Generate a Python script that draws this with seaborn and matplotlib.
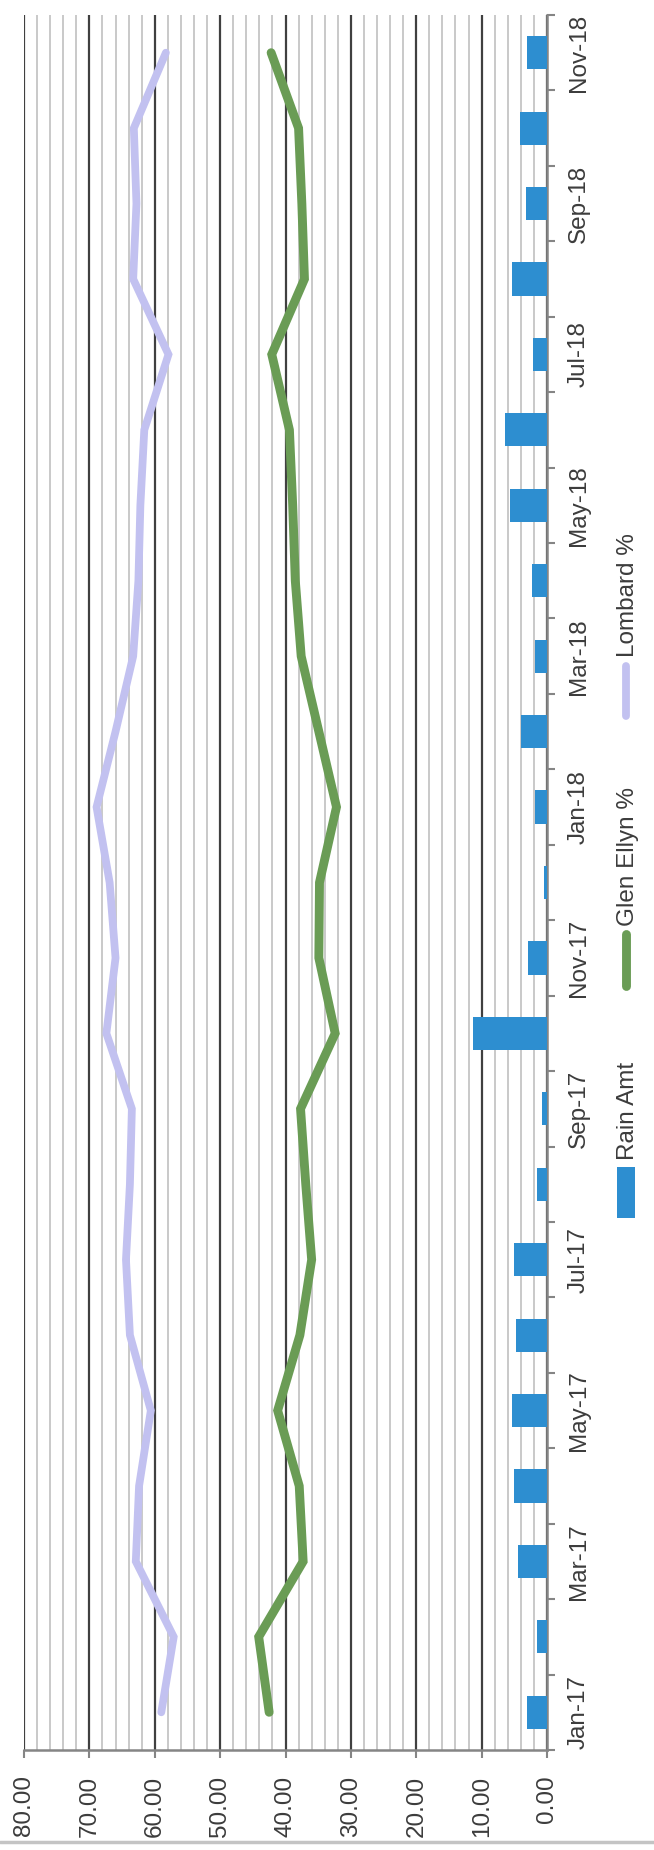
import numpy as np
import pandas as pd
import matplotlib
matplotlib.use("Agg")
import matplotlib.pyplot as plt
import seaborn as sns
from matplotlib.patches import Rectangle
from matplotlib.lines import Line2D

# Monthly series
months = ["Jan-17", "Feb-17", "Mar-17", "Apr-17", "May-17", "Jun-17",
          "Jul-17", "Aug-17", "Sep-17", "Oct-17", "Nov-17", "Dec-17",
          "Jan-18", "Feb-18", "Mar-18", "Apr-18", "May-18", "Jun-18",
          "Jul-18", "Aug-18", "Sep-18", "Oct-18", "Nov-18"]
rain_amt = [3.0, 1.5, 4.4, 5.0, 5.3, 4.7, 5.0, 1.5, 0.7, 11.3, 2.9, 0.4,
            1.8, 4.0, 1.9, 2.3, 5.7, 6.4, 2.1, 5.3, 3.2, 4.1, 3.1]
glen_ellyn_pct = [42.5, 44.1, 37.3, 37.9, 41.2, 37.8, 36.0, 36.9, 37.7, 32.4,
                  34.9, 34.8, 32.2, 34.9, 37.6, 38.5, 38.9, 39.4, 42.1, 37.1,
                  37.5, 38.0, 42.2]
lombard_pct = [59.0, 57.1, 62.9, 62.4, 60.6, 63.8, 64.4, 63.8, 63.5, 67.4,
               66.0, 66.9, 68.9, 66.0, 63.3, 62.5, 62.2, 61.6, 57.9, 63.3,
               62.8, 63.2, 58.3]
value_ticks = [0, 10, 20, 30, 40, 50, 60, 70, 80]
legend_labels = ["Rain Amt", "Glen Ellyn %", "Lombard %"]

BLUE = "#2D8ED0"
GREEN = "#6A9C55"
LAVENDER = "#C2C1F0"
TEXT = "#3c3c3c"
AXIS = "#858585"
FS = 17.5

sns.set_style("white")
plt.rcParams["font.family"] = ["Liberation Sans", "DejaVu Sans"]

W, H = 654, 1850
fig = plt.figure(figsize=(W / 100, H / 100), dpi=100)
fig.patch.set_facecolor("white")


def fx(px):
    return px / W


def fy(py):
    return 1 - py / H


ax = fig.add_axes([fx(24), fy(1750), fx(547) - fx(24), fy(15) - fy(1750)])

df = pd.DataFrame({
    "month": months,
    "pos": np.arange(len(months)),
    "rain": rain_amt,
    "glen": glen_ellyn_pct,
    "lombard": lombard_pct,
})

# Rain bars run horizontally from the zero line on the right
sns.barplot(data=df, x="rain", y="pos", orient="y", native_scale=True,
            width=0.44, color=BLUE, saturation=1, linewidth=0,
            errorbar=None, ax=ax, zorder=3)
sns.lineplot(data=df, x="lombard", y="pos", orient="y", color=LAVENDER,
             linewidth=5.6, solid_capstyle="round", solid_joinstyle="miter",
             ax=ax, zorder=4)
sns.lineplot(data=df, x="glen", y="pos", orient="y", color=GREEN,
             linewidth=6.4, solid_capstyle="round", solid_joinstyle="miter",
             ax=ax, zorder=5)

ax.set_xlim(80, 0)
ax.set_ylim(-0.5, len(months) - 0.5)
ax.set_xlabel("")
ax.set_ylabel("")
ax.set_axisbelow(True)

# Value axis (drawn along the bottom, reading upward)
ax.set_xticks(value_ticks, labels=[f"{v:.2f}" for v in value_ticks])
ax.set_xticks(np.arange(0, 81, 2), minor=True)
ax.tick_params(axis="x", which="major", bottom=True, direction="out",
               length=5.8, width=1.5, color=AXIS, labelsize=FS,
               labelcolor=TEXT, pad=12.5, labelrotation=90)
ax.tick_params(axis="x", which="minor", bottom=False, length=0)
ax.grid(axis="x", which="major", color="#404040", linewidth=1.6)
ax.grid(axis="x", which="minor", color="#c9c9c9", linewidth=1.4)
ax.grid(axis="y", visible=False)

# Month axis on the right: ticks between months, labels every other month
ax.yaxis.tick_right()
ax.set_yticks(np.arange(-0.5, len(months), 1.0), labels=[])
label_idx = list(range(0, len(months), 2))
ax.set_yticks(label_idx, labels=[months[i] for i in label_idx], minor=True)
ax.tick_params(axis="y", which="major", right=True, left=False,
               direction="out", length=5.8, width=1.5, color=AXIS,
               labelright=False, labelleft=False)
ax.tick_params(axis="y", which="minor", right=True, left=False, length=0,
               labelright=True, labelleft=False, labelsize=FS,
               labelcolor=TEXT, pad=15)
for lbl in ax.get_yticklabels(minor=True):
    lbl.set_rotation(90)
    lbl.set_va("center")
    lbl.set_ha("left")

for side in ("top", "left"):
    ax.spines[side].set_visible(False)
for side in ("bottom", "right"):
    ax.spines[side].set_color(AXIS)
    ax.spines[side].set_linewidth(1.8)

# Legend, set vertically beside the month labels
fig.add_artist(Rectangle((fx(617), fy(1218)), fx(635) - fx(617),
                         fy(1167) - fy(1218), transform=fig.transFigure,
                         facecolor=BLUE, edgecolor="none"))
fig.text(fx(628), fy(1160), legend_labels[0], rotation=90, ha="center",
         va="bottom", fontsize=FS, color=TEXT)
fig.add_artist(Line2D([fx(626), fx(626)], [fy(986), fy(934)],
                      transform=fig.transFigure, color=GREEN, linewidth=6.4,
                      solid_capstyle="round"))
fig.text(fx(628), fy(926), legend_labels[1], rotation=90, ha="center",
         va="bottom", fontsize=FS, color=TEXT)
fig.add_artist(Line2D([fx(626), fx(626)], [fy(716), fy(666)],
                      transform=fig.transFigure, color=LAVENDER,
                      linewidth=5.6, solid_capstyle="round"))
fig.text(fx(628), fy(657), legend_labels[2], rotation=90, ha="center",
         va="bottom", fontsize=FS, color=TEXT)

# Page edge along the bottom
fig.add_artist(Line2D([0, 1], [fy(1842), fy(1842)], transform=fig.transFigure,
                      color="#c4c4c4", linewidth=2.5))

fig.savefig("out.png", dpi=100, facecolor="white")
